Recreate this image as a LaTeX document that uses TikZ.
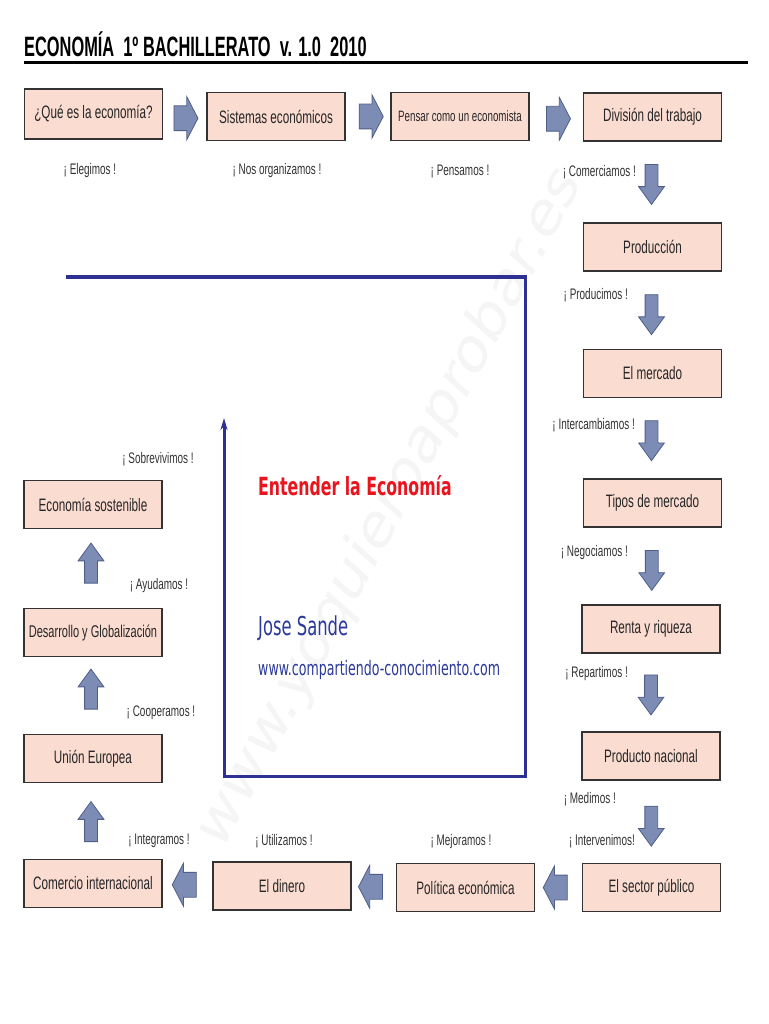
\documentclass[tikz,border=0pt]{standalone}
\usepackage{fontspec}
\setmainfont{Liberation Sans}[FakeStretch=0.65]
\newfontfamily\titlefont{Liberation Sans}[FakeStretch=0.585]
\newfontfamily\verd{DejaVu Sans}[FakeStretch=0.63]
\newfontfamily\wmfont{DejaVu Sans}
\usetikzlibrary{shapes.arrows,calc,arrows.meta}
\definecolor{boxfill}{HTML}{FBDCD1}
\definecolor{boxline}{HTML}{333333}
\definecolor{arrfill}{HTML}{7D8CB4}
\definecolor{arrline}{HTML}{4F5F88}
\definecolor{frameblue}{HTML}{2E3192}
\definecolor{txtred}{HTML}{E8141E}
\definecolor{txtblue}{HTML}{2B3A9A}
\definecolor{wmgray}{HTML}{F5F5F5}
\tikzset{
 box/.style={draw=boxline, line width=1.3pt, fill=boxfill, minimum width=138pt, minimum height=48pt, inner sep=0pt, font=\fontsize{18}{20}\selectfont, text=black!85},
 lbl/.style={font=\fontsize{15.3}{17}\selectfont, text=black!80, inner sep=0pt},
 harrow/.style={single arrow, draw=arrline, fill=arrfill, line width=0.8pt, minimum height=24pt, minimum width=42pt, inner xsep=0pt, inner ysep=12pt, single arrow head extend=9pt, single arrow tip angle=125},
 varrow/.style={single arrow, draw=arrline, fill=arrfill, line width=0.8pt, minimum height=40pt, minimum width=25pt, inner xsep=0pt, inner ysep=6pt, single arrow head extend=6.5pt, single arrow tip angle=72},
 frameline/.style={draw=frameblue, line width=3pt},
}
\begin{document}
\begin{tikzpicture}[x=1pt,y=-1pt]
\useasboundingbox (0,0) rectangle (768,1024);
\fill[white] (0,0) rectangle (768,1024);
% watermark
\begin{scope}[shift={(390,508)}, xscale=0.78]
\node[transform shape, rotate=55.3, text=wmgray, inner sep=0pt, font=\wmfont\fontsize{66}{70}\selectfont] (wm) at (0,0) {www.yoquieroaprobar.es};
\end{scope}
% title
\node[anchor=base west, inner sep=0pt, font=\titlefont\bfseries\fontsize{28}{30}\selectfont] (title) at (24,57) {ECONOMÍA\ \ 1º BACHILLERATO\ \ v. 1.0\ \ 2010};
\coordinate (t1) at (24,62.5);
\coordinate (t2) at (748,62.5);
\draw[line width=2.5pt] (t1) -- (t2);
% frame
\coordinate (fa) at (66,277);
\coordinate (fb) at (527,277);
\coordinate (fc) at (525,276);
\coordinate (fd) at (525,776);
\coordinate (fe) at (224,776);
\coordinate (ff) at (224,418);
\draw[frameline, line width=4pt] (fa) -- (fb);
\draw[frameline, -{Stealth[length=12pt,width=7pt]}] (fc) -- (fd) -- (fe) -- (ff);
% centre texts
\node[anchor=base west, inner sep=0pt, text=txtred, font=\verd\bfseries\fontsize{25}{28}\selectfont] (ent) at (258,495) {Entender la Economía};
\node[anchor=base west, inner sep=0pt, text=txtblue, font=\verd\fontsize{26}{28}\selectfont] (jose) at (258,635) {Jose Sande};
\node[anchor=base west, inner sep=0pt, text=txtblue, font=\verd\fontsize{20}{22}\selectfont] (web) at (258,675) {www.compartiendo-conocimiento.com};
% boxes
\node[box, minimum height=50pt] (q1) at (93.5,114) {¿Qué es la economía?};
\node[box] (q2) at (276,116.5) {Sistemas económicos};
\node[box, font=\fontsize{15}{17}\selectfont] (q3) at (460,116.5) {Pensar como un economista};
\node[box] (q4) at (652.5,117) {División del trabajo};
\node[box] (q5) at (652.5,247) {Producción};
\node[box] (q6) at (652.5,373.5) {El mercado};
\node[box] (q7) at (652.5,503) {Tipos de mercado};
\node[box] (q8) at (651,629) {Renta y riqueza};
\node[box] (q9) at (651,756) {Producto nacional};
\node[box] (q10) at (651.5,887.5) {El sector público};
\node[box] (q11) at (465.5,887.5) {Política económica};
\node[box] (q12) at (282,886) {El dinero};
\node[box] (q13) at (93,883.5) {Comercio internacional};
\node[box] (q14) at (93,758.5) {Unión Europea};
\node[box, font=\fontsize{17}{19}\selectfont] (q15) at (93,632.5) {Desarrollo y Globalización};
\node[box] (q16) at (93,504.5) {Economía sostenible};
% arrows
\node[harrow] (a1) at ($(q1.east)!0.5!(q2.west)+(-2,3)$) {};
\node[harrow] (a2) at ($(q2.east)!0.5!(q3.west)$) {};
\node[harrow] (a3) at ($(q3.east)!0.5!(q4.west)+(-1,2)$) {};
\node[varrow, rotate=-90] (a4) at ($(q4.south)!0.5!(q5.north)+(-1,-2)$) {};
\node[varrow, rotate=-90] (a5) at ($(q5.south)!0.5!(q6.north)+(-1,0)$) {};
\node[varrow, rotate=-90] (a6) at ($(q6.south)!0.5!(q7.north)+(-1,-2)$) {};
\node[varrow, rotate=-90] (a7) at ($(q7.south)!0.5!(q8.north)$) {};
\node[varrow, rotate=-90] (a8) at ($(q8.south)!0.5!(q9.north)+(0,-2)$) {};
\node[varrow, rotate=-90] (a9) at ($(q9.south)!0.5!(q10.north)$) {};
\node[harrow, rotate=180] (a10) at ($(q10.west)!0.5!(q11.east)$) {};
\node[harrow, rotate=180] (a11) at ($(q11.west)!0.5!(q12.east)$) {};
\node[harrow, rotate=180] (a12) at ($(q12.west)!0.5!(q13.east)$) {};
\node[varrow, rotate=90] (a13) at ($(q13.north)!0.5!(q14.south)+(-2,5)$) {};
\node[varrow, rotate=90] (a14) at ($(q14.north)!0.5!(q15.south)+(-2,-2)$) {};
\node[varrow, rotate=90] (a15) at ($(q15.north)!0.5!(q16.south)+(-2,-1)$) {};
% labels
\node[lbl] (l1) at (90,171) {¡ Elegimos !};
\node[lbl] (l2) at (277,171) {¡ Nos organizamos !};
\node[lbl] (l3) at (460,171) {¡ Pensamos !};
\node[lbl, anchor=east] (l4) at (636,172) {¡ Comerciamos !};
\node[lbl, anchor=east] (l5) at (628,295) {¡ Producimos !};
\node[lbl, anchor=east] (l6) at (635,425) {¡ Intercambiamos !};
\node[lbl, anchor=east] (l7) at (628,553) {¡ Negociamos !};
\node[lbl, anchor=east] (l8) at (628,674) {¡ Repartimos !};
\node[lbl, anchor=east] (l9) at (616,799) {¡ Medimos !};
\node[lbl, anchor=east] (l10) at (635,841) {¡ Intervenimos!};
\node[lbl] (l11) at (461,842) {¡ Mejoramos !};
\node[lbl] (l12) at (284,841) {¡ Utilizamos !};
\node[lbl] (l13) at (159,841) {¡ Integramos !};
\node[lbl] (l14) at (161,713) {¡ Cooperamos !};
\node[lbl] (l15) at (159,586) {¡ Ayudamos !};
\node[lbl] (l16) at (158,459) {¡ Sobrevivimos !};
\end{tikzpicture}
\end{document}
